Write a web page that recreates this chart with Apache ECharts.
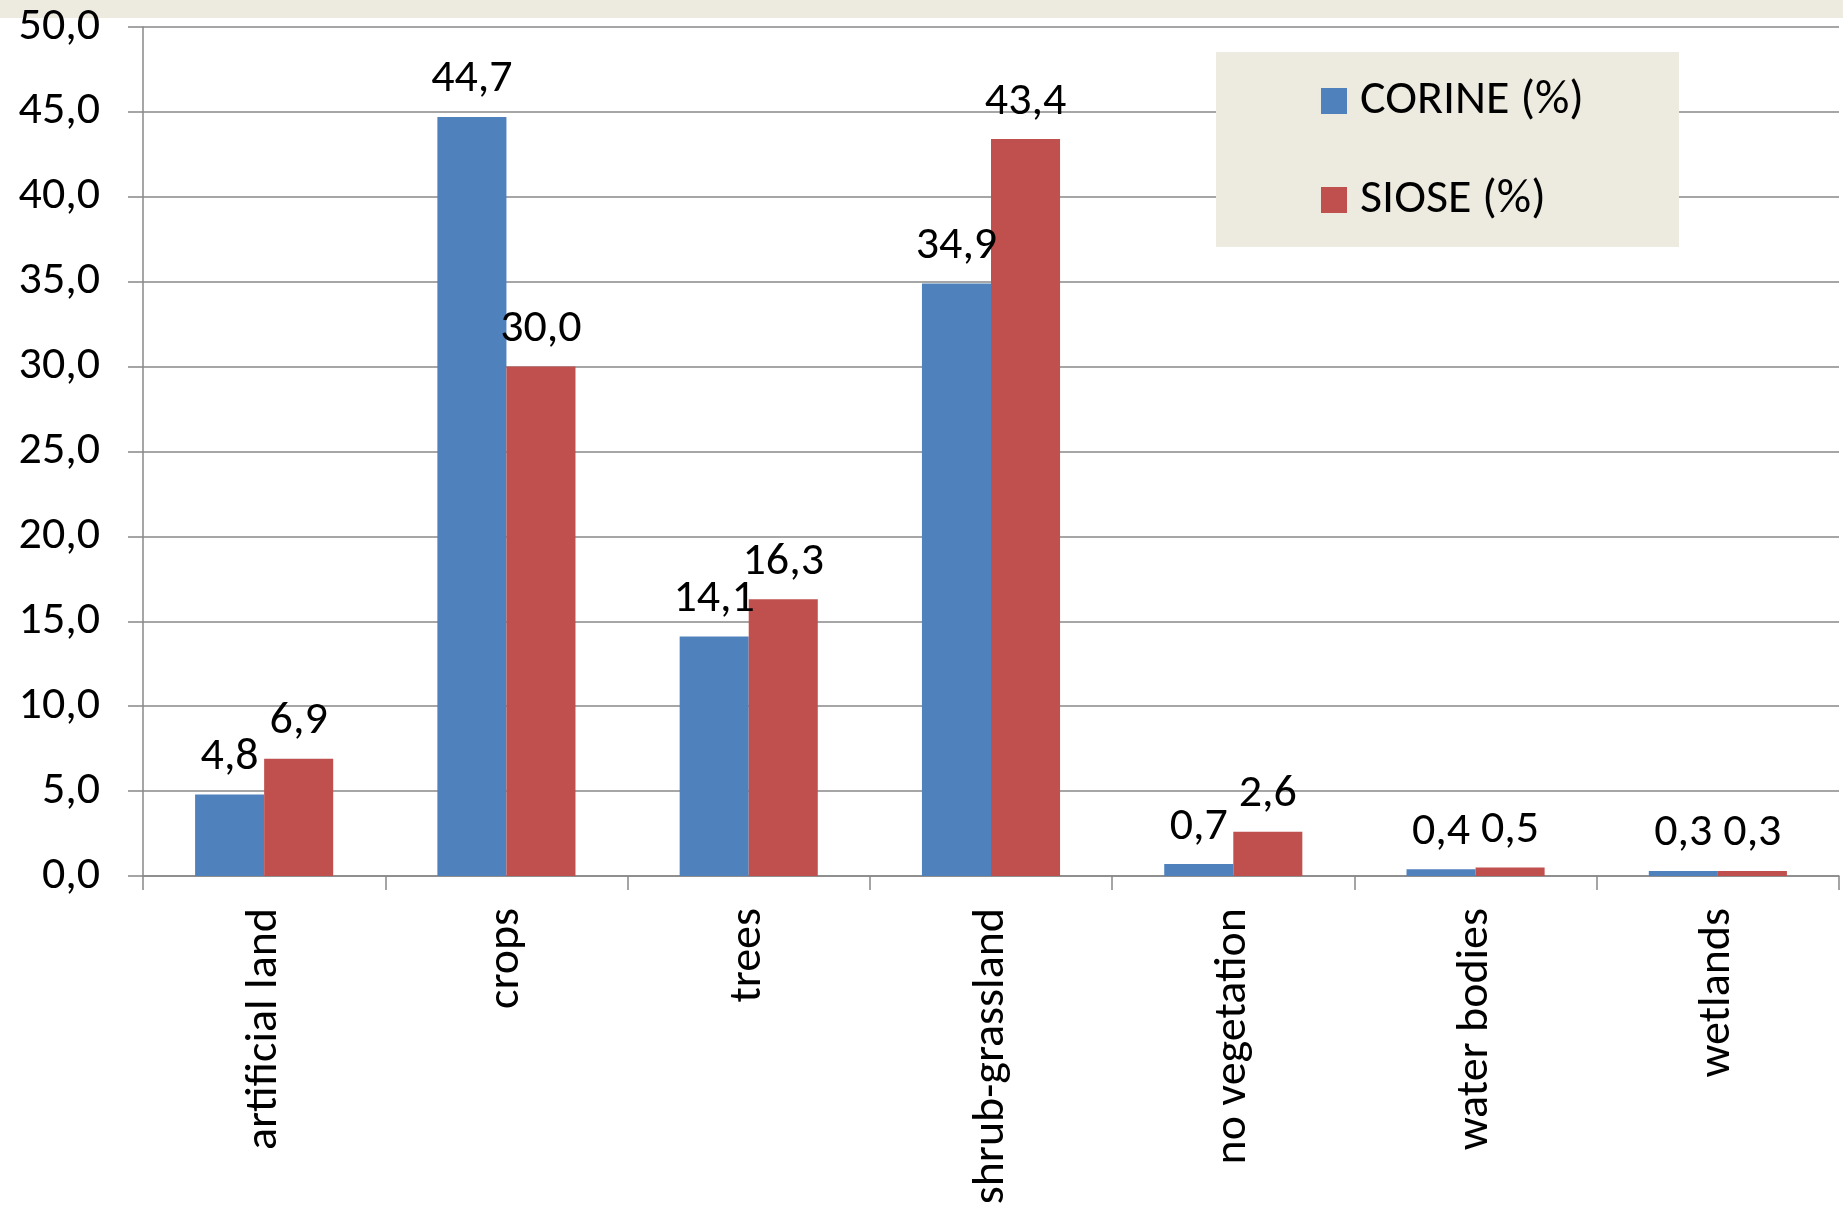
<!DOCTYPE html>
<html>
<head>
<meta charset="utf-8">
<script src="https://cdn.jsdelivr.net/npm/echarts@6/dist/echarts.min.js"></script>
<style>
  html, body { margin: 0; padding: 0; background: #ffffff; }
  #chart { width: 1843px; height: 1215px; }
</style>
</head>
<body>
<div id="chart"></div>
<script>
// land cover shares, CORINE vs SIOSE
const categories = ['artificial land', 'crops', 'trees', 'shrub-grassland', 'no vegetation', 'water bodies', 'wetlands'];
const corine = [4.8, 44.7, 14.1, 34.9, 0.7, 0.4, 0.3];
const siose = [6.9, 30.0, 16.3, 43.4, 2.6, 0.5, 0.3];
const seriesNames = ['CORINE (%)', 'SIOSE (%)'];

const BLUE = '#4F81BD';
const RED = '#C0504D';
const BEIGE = '#EDEBE0';
const GRID = '#888888';
const FONT = 'Carlito, Lato, sans-serif';
const FONT_SIZE = 46;

const comma = (v) => Number(v).toFixed(1).replace('.', ',');

const chart = echarts.init(document.getElementById('chart'));

const barLabel = {
  show: true,
  position: 'top',
  distance: 14,
  color: '#000',
  fontFamily: FONT,
  fontSize: FONT_SIZE,
  lineHeight: FONT_SIZE,
  formatter: (p) => comma(p.value)
};

chart.setOption({
  animation: false,
  backgroundColor: '#ffffff',
  graphic: [
    // beige strip along the top edge
    { type: 'rect', z: -1, shape: { x: 0, y: 0, width: 1843, height: 18 }, style: { fill: BEIGE } },
    // legend box
    { type: 'rect', z: 5, shape: { x: 1216, y: 52, width: 463, height: 195 }, style: { fill: BEIGE } }
  ],
  grid: { left: 143, right: 4, top: 27, bottom: 339 },
  legend: {
    z: 10,
    orient: 'vertical',
    left: 1316,
    top: 72,
    icon: 'rect',
    itemWidth: 26,
    itemHeight: 26,
    itemGap: 51,
    data: seriesNames,
    textStyle: { color: '#000', fontFamily: FONT, fontSize: 48, lineHeight: 47, padding: [0, 0, 0, 8] }
  },
  xAxis: {
    type: 'category',
    data: categories,
    axisLine: { show: true, lineStyle: { color: GRID, width: 1.5 } },
    axisTick: { show: true, length: 14, lineStyle: { color: GRID, width: 1.5 } },
    axisLabel: {
      rotate: 90,
      margin: 32,
      color: '#000',
      fontFamily: FONT,
      fontSize: FONT_SIZE,
      interval: 0
    },
    splitLine: { show: false }
  },
  yAxis: {
    type: 'value',
    min: 0,
    max: 50,
    interval: 5,
    axisLine: { show: true, lineStyle: { color: GRID, width: 1.5 } },
    axisTick: { show: true, length: 15, lineStyle: { color: GRID, width: 1.5 } },
    axisLabel: {
      margin: 43,
      color: '#000',
      fontFamily: FONT,
      fontSize: FONT_SIZE,
      formatter: (v) => comma(v)
    },
    splitLine: { lineStyle: { color: GRID, width: 1.5 } }
  },
  series: [
    {
      name: seriesNames[0],
      type: 'bar',
      data: corine,
      barGap: '0%',
      barCategoryGap: '43%',
      itemStyle: { color: BLUE },
      label: barLabel
    },
    {
      name: seriesNames[1],
      type: 'bar',
      data: siose,
      itemStyle: { color: RED },
      label: barLabel
    }
  ]
});
</script>
</body>
</html>
